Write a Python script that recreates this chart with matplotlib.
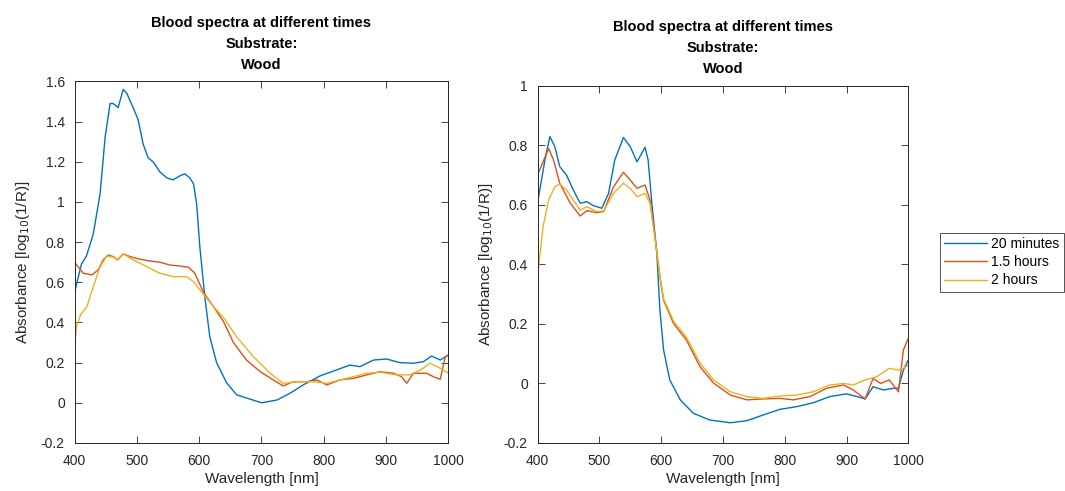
import numpy as np
import matplotlib.pyplot as plt

plt.rcParams['font.family'] = ['Liberation Sans', 'DejaVu Sans']

# left panel data (wavelength in nm, absorbance)
#______________________________________________________________________________
wl_l_blue  = [400, 411, 419, 430, 441, 449, 457, 462, 470, 478, 484, 494, 502,
              510, 518, 526, 537, 548, 558, 569, 577, 585, 591, 596, 601, 609,
              617, 628, 644, 660, 682, 700, 725, 746, 767, 794, 821, 842, 858,
              880, 901, 922, 944, 960, 973, 987, 1000]
ab_l_blue  = [0.55, 0.69, 0.73, 0.84, 1.04, 1.32, 1.49, 1.49, 1.47, 1.56, 1.54,
              1.47, 1.41, 1.29, 1.22, 1.20, 1.15, 1.12, 1.11, 1.13, 1.14, 1.12,
              1.09, 0.99, 0.78, 0.53, 0.33, 0.20, 0.10, 0.04, 0.018, 0.0, 0.014,
              0.048, 0.089, 0.134, 0.164, 0.188, 0.18, 0.213, 0.218, 0.20,
              0.197, 0.205, 0.233, 0.213, 0.238]

wl_l_red   = [400, 414, 428, 438, 446, 454, 462, 469, 478, 489, 505, 521, 537,
              553, 569, 583, 593, 607, 623, 639, 655, 676, 698, 719, 735, 751,
              773, 789, 805, 826, 848, 869, 890, 912, 925, 933, 944, 965, 976,
              987, 995, 1000]
ab_l_red   = [0.70, 0.645, 0.637, 0.662, 0.712, 0.736, 0.728, 0.712, 0.741,
              0.728, 0.715, 0.706, 0.70, 0.686, 0.681, 0.675, 0.645, 0.55, 0.479,
              0.405, 0.30, 0.213, 0.155, 0.114, 0.084, 0.105, 0.105, 0.114,
              0.089, 0.114, 0.122, 0.139, 0.155, 0.147, 0.13, 0.097, 0.147,
              0.147, 0.13, 0.117, 0.23, 0.238]

wl_l_yel   = [400, 403, 410, 420, 430, 441, 452, 462, 470, 478, 494, 516, 537,
              559, 580, 591, 607, 623, 639, 660, 687, 714, 735, 757, 783, 805,
              837, 869, 890, 917, 938, 955, 971, 987, 1000]
ab_l_yel   = [0.27, 0.38, 0.44, 0.48, 0.578, 0.678, 0.731, 0.725, 0.712, 0.741,
              0.712, 0.678, 0.645, 0.628, 0.628, 0.603, 0.54, 0.479, 0.425,
              0.329, 0.23, 0.147, 0.097, 0.105, 0.105, 0.097, 0.122, 0.147,
              0.152, 0.139, 0.139, 0.163, 0.197, 0.172, 0.147]

# right panel data
#______________________________________________________________________________
wl_r_blue  = [400, 412, 420, 428, 436, 447, 458, 469, 480, 490, 504, 515, 525,
              539, 550, 561, 574, 579, 585, 593, 598, 604, 614, 631, 652, 679,
              712, 739, 765, 792, 819, 846, 873, 900, 917, 930, 943, 960, 976,
              984, 992, 1000]
ab_r_blue  = [0.606, 0.751, 0.83, 0.796, 0.729, 0.70, 0.65, 0.606, 0.611,
              0.598, 0.589, 0.639, 0.751, 0.827, 0.796, 0.745, 0.794, 0.751,
              0.606, 0.44, 0.247, 0.113, 0.012, -0.055, -0.10, -0.123, -0.132,
              -0.125, -0.106, -0.087, -0.078, -0.065, -0.044, -0.035, -0.044,
              -0.052, -0.011, -0.022, -0.016, -0.016, 0.045, 0.079]

wl_r_red   = [400, 418, 426, 436, 453, 469, 480, 496, 507, 523, 539, 550, 561,
              574, 582, 590, 598, 604, 620, 641, 663, 685, 712, 739, 765, 792,
              814, 841, 868, 895, 911, 930, 943, 955, 969, 984, 992, 1000]
ab_r_red   = [0.70, 0.79, 0.751, 0.673, 0.606, 0.563, 0.581, 0.574, 0.578,
              0.661, 0.71, 0.684, 0.656, 0.667, 0.617, 0.493, 0.36, 0.28, 0.202,
              0.146, 0.056, 0.001, -0.039, -0.055, -0.052, -0.05, -0.055,
              -0.044, -0.016, -0.005, -0.022, -0.052, 0.017, 0.0, 0.012, -0.028,
              0.113, 0.152]

wl_r_yel   = [400, 409, 418, 428, 436, 447, 458, 469, 480, 496, 507, 523, 539,
              550, 561, 574, 582, 590, 598, 604, 620, 641, 663, 685, 712, 739,
              765, 792, 819, 846, 873, 895, 911, 930, 949, 969, 984, 992, 1000]
ab_r_yel   = [0.36, 0.527, 0.617, 0.661, 0.67, 0.65, 0.617, 0.583, 0.594,
              0.578, 0.58, 0.639, 0.673, 0.656, 0.628, 0.639, 0.606, 0.49, 0.36,
              0.285, 0.21, 0.155, 0.068, 0.012, -0.028, -0.044, -0.05, -0.042,
              -0.039, -0.028, -0.005, 0.0, -0.005, 0.012, 0.023, 0.051, 0.045,
              0.051, 0.062]

labels  = ["20 minutes", "1.5 hours", "2 hours"]
colors  = ["#0072BD", "#D95319", "#EDB120"]
title   = "Blood spectra at different times\nSubstrate:\nWood"
ylabel  = "Absorbance [log$_{10}$(1/R)]"
xlabel  = "Wavelength [nm]"

# figure
#______________________________________________________________________________
fig = plt.figure( figsize = (10.65, 4.91), dpi = 100 )
axl = fig.add_axes( [0.0700, 0.0978, 0.3510, 0.7363] )
axr = fig.add_axes( [0.5047, 0.0978, 0.3482, 0.7271] )

dark = "#262626"

def style( ax, ylim, yticks ):
    ax.set_xlim( 400, 1000 )
    ax.set_ylim( *ylim )
    ax.set_xticks( range( 400, 1001, 100 ) )
    ax.set_yticks( yticks )
    ax.set_yticklabels( [ "{:g}".format( round( t, 1 ) ) for t in yticks ] )
    ax.tick_params( direction = "in", length = 5, width = 0.6, top = True,
                    right = True, labelsize = 10, colors = dark )
    ax.tick_params( axis = "y", pad = 7 )
    ax.tick_params( axis = "x", pad = 8 )
    for s in ax.spines.values():
        s.set_color( dark )
        s.set_linewidth( 0.7 )
    ax.set_xlabel( xlabel, fontsize = 11, color = dark, labelpad = 3 )
    ax.set_ylabel( ylabel, fontsize = 11, color = dark, labelpad = 6.5 )
    ax.set_title( title, fontsize = 10.5, fontweight = "bold", linespacing = 1.65,
                  pad = 9 )

lines = []
for wl, ab, c, lab in zip( [wl_l_blue, wl_l_red, wl_l_yel],
                           [ab_l_blue, ab_l_red, ab_l_yel], colors, labels ):
    axl.plot( wl, ab, color = c, linewidth = 1.0, label = lab )

for wl, ab, c, lab in zip( [wl_r_blue, wl_r_red, wl_r_yel],
                           [ab_r_blue, ab_r_red, ab_r_yel], colors, labels ):
    l, = axr.plot( wl, ab, color = c, linewidth = 1.0, label = lab )
    lines.append( l )

style( axl, (-0.2, 1.6), np.arange( -0.2, 1.61, 0.2 ) )
style( axr, (-0.2, 1.0), np.arange( -0.2, 1.01, 0.2 ) )

leg = fig.legend( handles = lines, loc = "upper left",
                  bbox_to_anchor = (940/1065, 1 - 233/491), fontsize = 10,
                  frameon = True, fancybox = False, handlelength = 3.1,
                  borderpad = 0.3, labelspacing = 0.3, handletextpad = 0.3,
                  borderaxespad = 0 )
leg.get_frame().set_edgecolor( dark )
leg.get_frame().set_linewidth( 0.7 )

fig.savefig( "out.png", dpi = 100 )
